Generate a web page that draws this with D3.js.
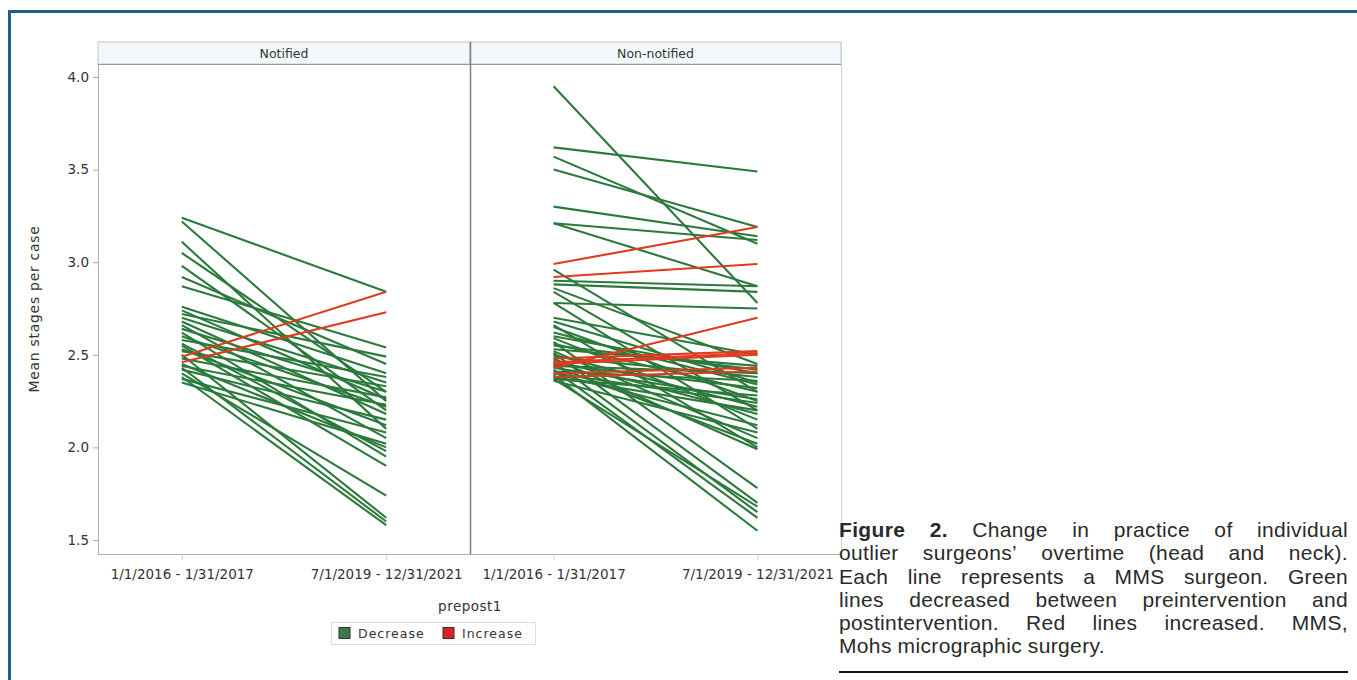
<!DOCTYPE html>
<html>
<head>
<meta charset="utf-8">
<script src="https://cdn.jsdelivr.net/npm/d3@7"></script>
<style>
  html, body { margin: 0; padding: 0; background: #fff; }
  svg { display: block; }
</style>
</head>
<body>
<svg id="chart" width="1357" height="680"></svg>
<script>
// ---- data ----
const periods = ["1/1/2016 - 1/31/2017", "7/1/2019 - 12/31/2021"];
const panels = ["Notified", "Non-notified"];
const yTicks = [1.5, 2.0, 2.5, 3.0, 3.5, 4.0];
const groups = ["Decrease", "Increase"];

// Notified: pre / post values per surgeon
const notifiedPre  = [3.24, 3.22, 3.11, 3.05, 2.98, 2.92, 2.87, 2.76, 2.74, 2.72, 2.70, 2.68, 2.66, 2.64, 2.62, 2.60, 2.58, 2.55, 2.53, 2.50, 2.48, 2.49, 2.46, 2.45, 2.43, 2.42, 2.40, 2.38, 2.37, 2.35, 2.44, 2.52, 2.56];
const notifiedPost = [2.84, 2.25, 2.10, 2.30, 2.20, 2.45, 2.54, 2.40, 2.26, 2.49, 2.35, 2.18, 2.05, 2.30, 1.95, 2.22, 2.38, 1.90, 2.12, 1.62, 2.27, 2.84, 2.73, 2.00, 1.60, 2.15, 1.74, 1.58, 2.08, 2.02, 2.23, 2.33, 1.98];

// Non-notified: pre / post values per surgeon
const nonNotifiedPre  = [3.95, 3.62, 3.57, 3.50, 3.30, 3.21, 3.21, 2.96, 2.90, 2.88, 2.86, 2.84, 2.78, 2.78, 2.70, 2.68, 2.66, 2.65, 2.60, 2.59, 2.57, 2.56, 2.53, 2.52, 2.51, 2.50, 2.49, 2.47, 2.46, 2.45, 2.44, 2.43, 2.42, 2.41, 2.40, 2.39, 2.38, 2.37, 2.37, 2.36, 2.55, 2.62, 2.48, 2.44, 2.40,
                         2.99, 2.92, 2.43, 2.48, 2.46, 2.40, 2.38, 2.45];
const nonNotifiedPost = [2.78, 3.49, 3.10, 3.19, 3.14, 3.12, 2.87, 2.30, 2.87, 2.84, 2.45, 2.20, 2.75, 2.10, 2.50, 2.35, 2.00, 2.25, 2.40, 2.15, 1.78, 2.30, 2.44, 2.05, 1.70, 2.22, 2.38, 2.18, 1.65, 2.32, 2.02, 2.26, 1.62, 2.36, 2.12, 1.55, 2.20, 2.28, 1.68, 2.08, 2.42, 2.34, 1.99, 2.40, 2.24,
                         3.19, 2.99, 2.70, 2.52, 2.51, 2.43, 2.41, 2.50];

const colors = { Decrease: "#2c7a3b", Increase: "#e23a1e" };

// ---- layout ----
const svg = d3.select("#chart");
const font = "'DejaVu Sans', sans-serif";
const plotTop = 64, plotBottom = 554, headerTop = 42;
const panelEdges = [[98, 470], [470, 841]];

// frame
svg.append("path")
  .attr("d", "M9.5,680 L9.5,11.5 L1357,11.5")
  .attr("fill", "none").attr("stroke", "#1c5f8e").attr("stroke-width", 3);

const y = d3.scaleLinear().domain([1.5, 4.0]).range([540, 77]);

// panel headers
panels.forEach((p, i) => {
  const [x0, x1] = panelEdges[i];
  svg.append("rect").attr("x", x0).attr("y", headerTop).attr("width", x1 - x0).attr("height", plotTop - headerTop)
    .attr("fill", "#f3f8fd").attr("stroke", "#c8c8c8").attr("stroke-width", 1);
  svg.append("text").attr("x", (x0 + x1) / 2).attr("y", 58).attr("text-anchor", "middle")
    .attr("font-family", font).attr("font-size", 12.5).attr("fill", "#333").text(p);
});

// panel borders
svg.append("line").attr("x1", 98.5).attr("x2", 98.5).attr("y1", plotTop).attr("y2", plotBottom).attr("stroke", "#b0b0b0");
svg.append("line").attr("x1", 98).attr("x2", 841).attr("y1", plotTop + 0.5).attr("y2", plotTop + 0.5).attr("stroke", "#999");
svg.append("line").attr("x1", 841.5).attr("x2", 841.5).attr("y1", headerTop).attr("y2", plotBottom).attr("stroke", "#d0d0d0");
svg.append("line").attr("x1", 98).attr("x2", 841).attr("y1", plotBottom + 0.5).attr("y2", plotBottom + 0.5).attr("stroke", "#b0b0b0");
svg.append("line").attr("x1", 470.5).attr("x2", 470.5).attr("y1", headerTop).attr("y2", plotBottom).attr("stroke", "#808080").attr("stroke-width", 1.5);

// y axis
const yAxis = svg.append("g").attr("transform", "translate(98,0)")
  .call(d3.axisLeft(y).tickValues(yTicks).tickSize(5).tickPadding(4).tickFormat(d3.format(".1f")));
yAxis.select(".domain").remove();
yAxis.selectAll("line").attr("stroke", "#aaa");
yAxis.selectAll("text").attr("font-family", font).attr("font-size", 13.5).attr("fill", "#333");

svg.append("text").attr("transform", "translate(39,309) rotate(-90)").attr("text-anchor", "middle")
  .attr("font-family", font).attr("font-size", 14).attr("letter-spacing", 0.7).attr("fill", "#333").text("Mean stages per case");

// lines per panel
const panelData = [
  notifiedPre.map((v, i) => ({ pre: v, post: notifiedPost[i] })),
  nonNotifiedPre.map((v, i) => ({ pre: v, post: nonNotifiedPost[i] }))
];

panelData.forEach((data, i) => {
  const [x0, x1] = panelEdges[i];
  const x = d3.scalePoint().domain(periods).range([x0, x1]).padding(0.41);
  const xa = svg.append("g").attr("transform", `translate(0,${plotBottom})`)
    .call(d3.axisBottom(x).tickSize(6).tickPadding(9));
  xa.select(".domain").remove();
  xa.selectAll("line").attr("stroke", "#ccc");
  xa.selectAll("text").attr("font-family", font).attr("font-size", 13.5).attr("fill", "#333");

  const line = d3.line().x(d => x(d[0])).y(d => y(d[1]));
  const sorted = data.map(d => ({ ...d, g: d.post > d.pre ? "Increase" : "Decrease" }))
    .sort((a, b) => (a.g === b.g ? 0 : a.g === "Decrease" ? -1 : 1));
  svg.append("g").selectAll("path").data(sorted).join("path")
    .attr("d", d => line([[periods[0], d.pre], [periods[1], d.post]]))
    .attr("fill", "none")
    .attr("stroke", d => colors[d.g])
    .attr("stroke-width", 2.1)
    .attr("stroke-linecap", "butt");
});

// x axis title
svg.append("text").attr("x", 470).attr("y", 611).attr("text-anchor", "middle")
  .attr("font-family", font).attr("font-size", 13.5).attr("fill", "#333").attr("letter-spacing", 0.5).text("prepost1");

// legend
const lg = svg.append("g");
lg.append("rect").attr("x", 331.5).attr("y", 622.5).attr("width", 204).attr("height", 22)
  .attr("fill", "#fff").attr("stroke", "#ddd");
const legendX = [339, 443];
groups.forEach((g, i) => {
  lg.append("rect").attr("x", legendX[i]).attr("y", 627.5).attr("width", 11).attr("height", 11)
    .attr("fill", g === "Decrease" ? "#3a7a4c" : "#dd2222").attr("stroke", "#333").attr("stroke-width", 1);
  lg.append("text").attr("x", legendX[i] + 19).attr("y", 638).attr("font-family", font)
    .attr("font-size", 12.5).attr("letter-spacing", 1).attr("fill", "#333").text(g);
});

// caption
const capX = 839, capW = 509, capFont = "'Liberation Sans', Arial, sans-serif", capSize = 21, capLS = 0.35;
const captionLines = [
  [{ t: "Figure 2.", b: true }, { t: " Change in practice of individual" }],
  [{ t: "outlier surgeons\u2019 overtime (head and neck)." }],
  [{ t: "Each line represents a MMS surgeon. Green" }],
  [{ t: "lines decreased between preintervention and" }],
  [{ t: "postintervention. Red lines increased. MMS," }],
  [{ t: "Mohs micrographic surgery." }]
];
const capBase = [537, 560, 584, 607, 630, 653];
captionLines.forEach((segs, li) => {
  const words = [];
  segs.forEach(s => s.t.trim().split(/\s+/).forEach(w => words.push({ w, b: !!s.b })));
  const justify = li < captionLines.length - 1;
  const tmp = svg.append("g");
  const widths = words.map(o => {
    const t = tmp.append("text").attr("font-family", capFont).attr("font-size", capSize)
      .attr("letter-spacing", capLS).attr("font-weight", o.b ? "bold" : "normal").text(o.w);
    return t.node().getComputedTextLength();
  });
  tmp.remove();
  const total = d3.sum(widths);
  const spaceNat = capSize * 0.278;
  const gap = justify ? Math.max(spaceNat * 0.8, (capW - total) / (words.length - 1)) : spaceNat;
  let cx = capX;
  words.forEach((o, k) => {
    svg.append("text").attr("x", cx).attr("y", capBase[li]).attr("font-family", capFont)
      .attr("font-size", capSize).attr("letter-spacing", capLS).attr("font-weight", o.b ? "bold" : "normal")
      .attr("fill", "#2a2a2a").text(o.w);
    cx += widths[k] + gap;
  });
});
svg.append("line").attr("x1", capX).attr("x2", capX + capW).attr("y1", 672).attr("y2", 672)
  .attr("stroke", "#111").attr("stroke-width", 2);
</script>
</body>
</html>
